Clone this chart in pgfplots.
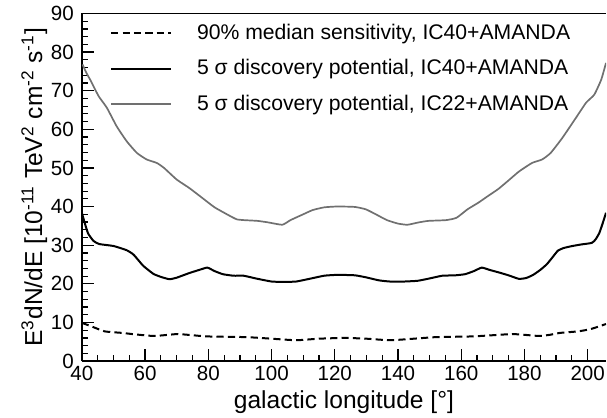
\documentclass[border=0pt]{standalone}
\usepackage{fontspec}
\setmainfont{Liberation Sans}
\usepackage{pgfplots}
\pgfplotsset{compat=1.18}
\usetikzlibrary{calc}
\definecolor{gline}{RGB}{112,112,112}

\pgfplotstableread{
x y
40.2 76.8
41.5 74.5
42.6 72.9
45.3 68.6
47.9 65.6
51 60.8
54.2 56.9
57.4 53.9
60.5 52.2
63.7 51.3
66 50
70 47
74 44.8
78 42.3
82 39.8
86.8 37.6
89 36.7
91.2 36.5
95.6 36.3
99 35.9
103.4 35.3
106 36.5
110 38
113 39.1
116.6 39.8
120 40
123.2 40
126.5 39.9
129.8 39.3
133 38
136.5 36.5
140 35.6
143 35.3
146.5 35.9
149.6 36.3
155.2 36.5
158.5 37.1
162 39.3
165.4 41
168.4 42.7
171.8 44.6
175 46.8
178.3 49.1
182.4 51.3
185.6 52.2
188.3 53.9
192 57.8
196.3 63
199.5 66.9
202.1 69
204.3 72.9
205.8 77.2
}\ictwo

\pgfplotstableread{
x y
40 38.4
41 35.5
42 33
43.7 31.1
45.5 30.3
50 29.8
54.2 28.7
56.3 27.6
58 26
59.5 24.6
62.6 22.6
65 21.8
67.7 21.2
70 21.6
74 22.8
77.5 23.7
79.7 24.2
82 23.3
84.6 22.5
88 22.1
91.2 22.1
95 21.4
100 20.6
104 20.5
107.8 20.6
112 21.3
116.6 22.1
120 22.3
123.2 22.3
126.5 22.2
129.8 21.7
134 20.9
137.5 20.6
142 20.6
146.3 20.8
150 21.4
154 22.1
158 22.2
161.2 22.5
164 23.3
166.5 24.2
169 23.6
171.7 23
175 22.2
178.2 21.3
180.5 21.5
182.7 22.3
185 23.6
187.1 25.1
189 27
190.6 28.6
192.5 29.3
195.2 29.8
198 30.2
201.3 30.6
202.5 31.5
203.7 33.2
204.8 35.8
205.8 38.4
}\icfour

\pgfplotstableread{
x y
40 9.9
43 9
47.2 7.7
52.7 7.3
57 6.9
62.6 6.5
66 6.7
70.3 7
75 6.7
79.1 6.4
85 6.3
92.3 6.2
100 5.8
107.8 5.4
115 5.8
123.2 6
130 5.8
137.5 5.4
145 5.8
151.8 6.2
158 6.3
164 6.4
170 6.7
176.1 7
180 6.8
184.7 6.5
188 6.8
191.3 7.3
197 7.7
201 8.3
205.8 9.6
}\sens

\begin{document}
\begin{tikzpicture}
\begin{axis}[
  name=ax,
  scale only axis, width=262.5pt, height=174.1pt,
  xmin=40, xmax=205.8, ymin=0, ymax=90,
  axis x line=box, axis y line=left,
  y axis line style={-}, x axis line style={-},
  axis line style={line width=0.8pt},
  xtick={40,60,...,200}, ytick={0,10,...,90},
  minor x tick num=3, minor y tick num=4,
  tick align=inside, xtick pos=left, ytick pos=left,
  major tick length=6pt, minor tick length=3.3pt,
  tick style={black, line width=0.6pt},
  /pgf/number format/assume math mode=true,
  tick label style={font=\fontsize{10.3pt}{12pt}\selectfont},
  xticklabel style={yshift=1pt},
  yticklabel style={xshift=-0.5pt},
  xlabel={galactic longitude [\textdegree]},
  ylabel={E\textsuperscript{3}dN/dE [10\textsuperscript{-11} TeV\textsuperscript{2} cm\textsuperscript{-2} s\textsuperscript{-1}]},
  label style={font=\fontsize{12.3pt}{14pt}\selectfont},
  xlabel style={yshift=2pt},
  ylabel style={yshift=-5pt},
  legend cell align=left,
  legend style={draw=none, fill=none, at={(rel axis cs:0,1)}, anchor=north west,
    xshift=11pt, yshift=-1pt, font=\fontsize{10.6pt}{12pt}\selectfont,
    row sep=4.6pt, nodes={inner sep=2pt}},
  legend image code/.code={\draw[#1] (0pt,0pt) -- (30pt,0pt); \path (40.5pt,0pt);},
]
\addplot[black, line width=1pt, dash pattern=on 3.6pt off 2.1pt, smooth, tension=0.3] table {\sens};
\addlegendentry{90\% median sensitivity, IC40+AMANDA}
\addplot[black, line width=1pt, smooth, tension=0.3] table {\icfour};
\addlegendentry{5 σ discovery potential, IC40+AMANDA}
\addplot[gline, line width=0.85pt, smooth, tension=0.3] table {\ictwo};
\addlegendentry{5 σ discovery potential, IC22+AMANDA}
\end{axis}
\pgfresetboundingbox
\path[use as bounding box] ($(ax.south west)+(-41pt,-28.15pt)$) rectangle ($(ax.north east)+(0.5pt,6.75pt)$);
\end{tikzpicture}
\end{document}
